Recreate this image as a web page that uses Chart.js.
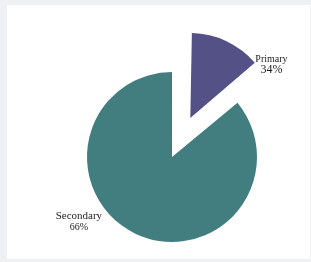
<!DOCTYPE html>
<html>
<head>
<meta charset="utf-8">
<script src="https://cdn.jsdelivr.net/npm/chart.js@4/dist/chart.umd.min.js"></script>
<style>
  html, body { margin: 0; padding: 0; background: #eef0f3; }
  #panel { position: absolute; left: 7px; top: 5px; width: 303px; height: 254px; background: #fff; }
  #wrap { position: absolute; left: 0; top: 0; width: 311px; height: 262px; }
</style>
</head>
<body>
<div id="panel"></div>
<div id="wrap"><canvas id="pieChart"></canvas></div>
<script>
// data as drawn
const categories = ['Primary', 'Secondary'];
const shares = [14, 86];
const shareLabels = ['34%', '66%'];

const sliceColors = ['#545187', '#427e80'];
const sliceOffsets = [172, 0]; // chart.js moves a slice by a quarter of this, ~43px

// where each label sits, measured from the pie centre (angle clockwise from 12 o'clock)
const labelSpots = [
  { angle: 47, dist: 136, nameSize: 10, pctSize: 12 },
  { angle: 235.5, dist: 113, nameSize: 11, pctSize: 10 }
];

// chart.js also grows an offset slice's radius; keep it the same size as the rest
const keepRadius = {
  id: 'keepRadius',
  beforeDatasetsDraw(chart) {
    const meta = chart.getDatasetMeta(0);
    const base = meta.controller.outerRadius;
    meta.data.forEach((arc, i) => {
      const off = sliceOffsets[i] / 4;
      const fix = 1 - Math.sin(Math.min(Math.PI, arc.circumference || 0));
      arc.outerRadius = base - off * fix;
    });
  }
};

const sliceLabels = {
  id: 'sliceLabels',
  afterDatasetsDraw(chart) {
    const ctx = chart.ctx;
    const arcs = chart.getDatasetMeta(0).data;
    arcs.forEach((arc, i) => {
      const { x, y } = arc.getProps(['x', 'y'], true);
      const spot = labelSpots[i];
      const a = (spot.angle - 90) * Math.PI / 180;
      const lx = x + Math.cos(a) * spot.dist;
      const ly = y + Math.sin(a) * spot.dist;
      ctx.save();
      ctx.fillStyle = '#222';
      ctx.textAlign = 'center';
      ctx.textBaseline = 'middle';
      ctx.font = spot.nameSize + 'px "Liberation Serif", serif';
      ctx.fillText(categories[i], lx, ly - 5);
      ctx.font = spot.pctSize + 'px "Liberation Serif", serif';
      ctx.fillText(shareLabels[i], lx, ly + 6);
      ctx.restore();
    });
  }
};

const ctx = document.getElementById('pieChart').getContext('2d');
new Chart(ctx, {
  type: 'pie',
  data: {
    labels: categories,
    datasets: [{
      data: shares,
      backgroundColor: sliceColors,
      borderWidth: 0,
      offset: sliceOffsets
    }]
  },
  options: {
    responsive: true,
    maintainAspectRatio: false,
    animation: false,
    radius: 85,
    layout: { padding: { left: 33, top: 52, right: 0, bottom: 0 } },
    plugins: {
      legend: { display: false },
      tooltip: { enabled: false }
    }
  },
  plugins: [keepRadius, sliceLabels]
});
</script>
</body>
</html>
